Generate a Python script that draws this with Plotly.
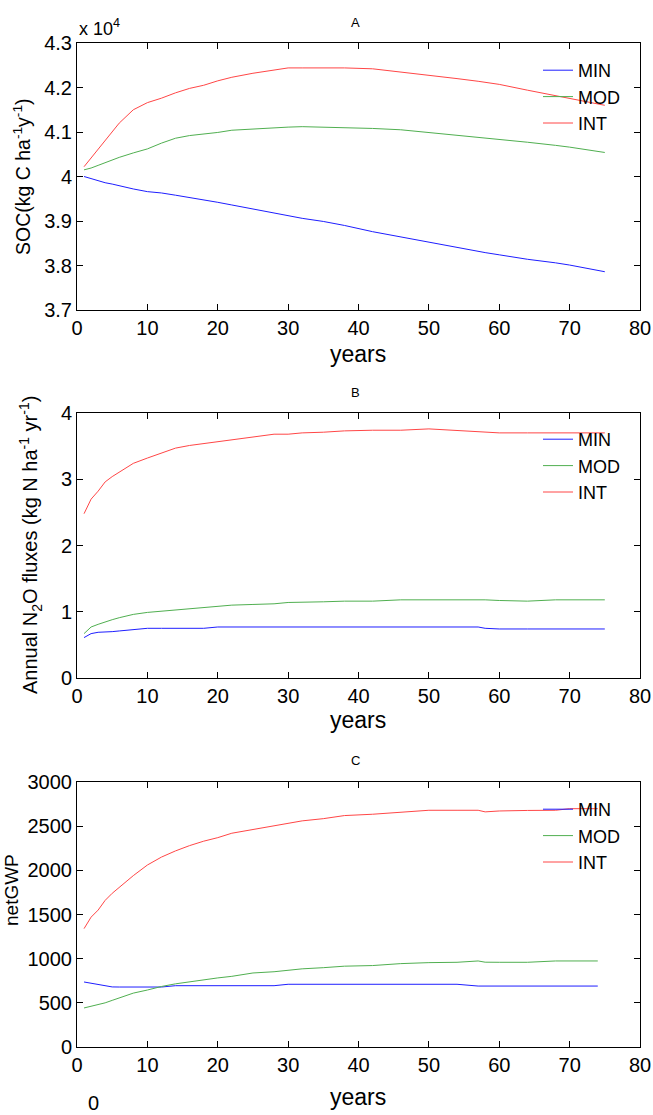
import plotly.graph_objects as go

# years sampled from the curves
years = [1, 2, 3, 4, 5, 6, 8, 10, 12, 14, 16, 18, 20, 22, 25, 28, 30, 32, 35, 38,
         42, 46, 50, 54, 57, 58, 60, 64, 68, 70, 75]
years_c = [1, 2, 3, 4, 5, 6, 8, 10, 12, 14, 16, 18, 20, 22, 25, 28, 30, 32, 35, 38,
           42, 46, 50, 54, 57, 58, 60, 64, 68, 70, 74]

# A: SOC, in units of 10^4 kg C/ha
soc_min = [4.000, 3.995, 3.990, 3.986, 3.983, 3.979, 3.972, 3.966, 3.963, 3.958, 3.953,
           3.948, 3.942, 3.936, 3.927, 3.918, 3.912, 3.906, 3.899, 3.890, 3.876, 3.864,
           3.852, 3.840, 3.832, 3.829, 3.824, 3.814, 3.806, 3.801, 3.786]
soc_mod = [4.015, 4.019, 4.025, 4.031, 4.037, 4.043, 4.053, 4.062, 4.075, 4.086, 4.092,
           4.095, 4.099, 4.104, 4.107, 4.110, 4.111, 4.112, 4.111, 4.109, 4.108, 4.105,
           4.099, 4.092, 4.088, 4.086, 4.083, 4.077, 4.070, 4.066, 4.054]
soc_int = [4.022, 4.042, 4.060, 4.082, 4.100, 4.120, 4.150, 4.166, 4.176, 4.188, 4.198,
           4.205, 4.215, 4.223, 4.232, 4.240, 4.244, 4.244, 4.244, 4.244, 4.242, 4.235,
           4.228, 4.220, 4.214, 4.212, 4.207, 4.194, 4.182, 4.176, 4.160]

# B: annual N2O fluxes
n2o_min = [0.61, 0.67, 0.69, 0.69, 0.70, 0.71, 0.73, 0.75, 0.75, 0.75, 0.75, 0.75, 0.77,
           0.77, 0.77, 0.77, 0.77, 0.77, 0.77, 0.77, 0.77, 0.77, 0.77, 0.77, 0.77, 0.75,
           0.74, 0.74, 0.74, 0.74, 0.74]
n2o_mod = [0.67, 0.77, 0.81, 0.85, 0.88, 0.91, 0.96, 0.99, 1.01, 1.03, 1.05, 1.07, 1.08,
           1.10, 1.11, 1.12, 1.14, 1.14, 1.15, 1.16, 1.16, 1.18, 1.18, 1.19, 1.19, 1.18,
           1.17, 1.16, 1.18, 1.18, 1.18]
n2o_int = [2.48, 2.70, 2.82, 2.96, 3.04, 3.11, 3.24, 3.32, 3.40, 3.47, 3.51, 3.54, 3.57,
           3.59, 3.64, 3.68, 3.68, 3.70, 3.71, 3.73, 3.74, 3.74, 3.76, 3.74, 3.72, 3.71,
           3.70, 3.70, 3.70, 3.70, 3.70]

# C: netGWP
gwp_min = [736, 722, 708, 692, 680, 679, 679, 679, 679, 694, 694, 694, 694, 694, 694, 694,
           710, 710, 710, 710, 710, 710, 710, 710, 690, 690, 690, 690, 690, 690, 690]
gwp_mod = [442, 460, 475, 500, 528, 555, 610, 645, 685, 715, 740, 765, 782, 800, 838, 852,
           872, 885, 898, 915, 922, 944, 955, 959, 974, 960, 959, 959, 974, 974, 974]
gwp_int = [1340, 1470, 1550, 1660, 1740, 1810, 1940, 2060, 2150, 2220, 2280, 2330, 2370,
           2420, 2460, 2500, 2530, 2560, 2585, 2620, 2635, 2655, 2680, 2680, 2680, 2662,
           2672, 2678, 2680, 2698, 2698]

names = ["MIN", "MOD", "INT"]
colors = ["rgb(30,30,255)", "rgb(80,175,80)", "rgb(255,70,70)"]
FONT = "Liberation Sans, Arial, sans-serif"

fig = go.Figure()

panels = [
    ("x", "y", "legend", years, [soc_min, soc_mod, soc_int]),
    ("x2", "y2", "legend2", years, [n2o_min, n2o_mod, n2o_int]),
    ("x3", "y3", "legend3", years_c, [gwp_min, gwp_mod, gwp_int]),
]
for xa, ya, lg, xs, series in panels:
    for name, col, vals in zip(names, colors, series):
        fig.add_trace(go.Scatter(x=xs, y=vals, mode="lines", name=name, xaxis=xa, yaxis=ya,
                                 legend=lg, line=dict(color=col, width=1)))

W, H = 653, 1115


def px(x):
    return x / W


def py(y):
    return 1 - y / H


xdom = [px(77), px(640)]

axis_common = dict(showline=True, linecolor="black", linewidth=1, mirror="ticks",
                   ticks="inside", ticklen=6, tickcolor="black", showgrid=False,
                   zeroline=False, automargin=False, ticklabeloverflow="allow",
                   tickfont=dict(size=20, color="black"))

fig.update_layout(
    width=W, height=H,
    margin=dict(l=0, r=0, t=0, b=0, autoexpand=False),
    paper_bgcolor="white", plot_bgcolor="white",
    font=dict(family=FONT, color="black"),
    xaxis=dict(domain=xdom, anchor="y", range=[0, 80], dtick=10, **axis_common),
    yaxis=dict(domain=[py(310), py(43)], anchor="x", range=[3.7, 4.3], dtick=0.1, **axis_common),
    xaxis2=dict(domain=xdom, anchor="y2", range=[0, 80], dtick=10, **axis_common),
    yaxis2=dict(domain=[py(678), py(413)], anchor="x2", range=[0, 4], dtick=1, **axis_common),
    xaxis3=dict(domain=xdom, anchor="y3", range=[0, 80], dtick=10, **axis_common),
    yaxis3=dict(domain=[py(1047), py(782)], anchor="x3", range=[0, 3000], dtick=500, **axis_common),
)

leg = dict(x=px(538), xanchor="left", yanchor="top", bgcolor="rgba(0,0,0,0)",
           font=dict(size=18, color="black"), tracegroupgap=0)
fig.update_layout(
    legend=dict(y=py(52), **leg),
    legend2=dict(y=py(421), **leg),
    legend3=dict(y=py(791), **leg),
)


def ann(text, x, y, size, angle=0):
    fig.add_annotation(text=text, x=px(x), y=py(y), xref="paper", yref="paper",
                       xanchor="center", yanchor="middle", showarrow=False,
                       textangle=angle, font=dict(size=size, color="black"))


ann("A", 356, 22, 13)
ann("B", 356, 392, 13)
ann("C", 356, 760, 13)
ann("x 10<sup>4</sup>", 100, 27, 18)
ann("years", 358, 354, 23)
ann("years", 358, 720, 23)
ann("years", 358, 1097, 23)
ann("SOC(kg C ha<sup>-1</sup>y<sup>-1</sup>)", 22, 177, 19.5, -90)
ann("Annual N<sub>2</sub>O fluxes (kg N ha<sup>-1</sup> yr<sup>-1</sup>)", 30, 545, 20, -90)
ann("netGWP", 11, 890, 19, -90)
ann("0", 93, 1103, 20)

# drop the default 8px page margin so the figure fills the window exactly
fig.write_html("out.html", config={"displayModeBar": False},
               post_script="document.body.style.margin='0px';")
